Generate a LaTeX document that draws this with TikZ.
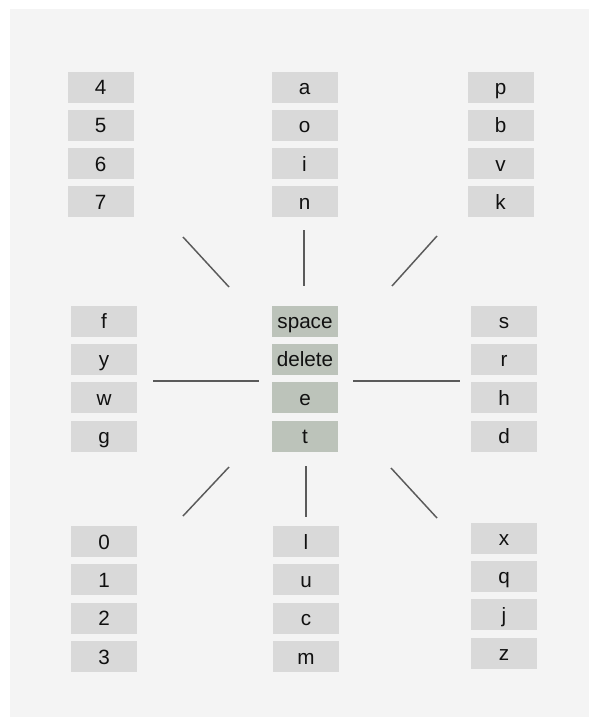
\documentclass[tikz,border=0pt]{standalone}
\usepackage{fontspec}
\setmainfont{Liberation Sans}
\definecolor{panel}{HTML}{F4F4F4}
\definecolor{keygray}{HTML}{D9D9D9}
\definecolor{keygreen}{HTML}{BCC3BA}
\definecolor{spoke}{HTML}{5A5A5A}
\definecolor{ink}{HTML}{111111}
\begin{document}
\begin{tikzpicture}[x=0.75pt,y=-0.75pt,
  key/.style={fill=keygray,minimum width=49.5pt,minimum height=23.25pt,inner sep=0pt,
    text=ink,font=\fontsize{15.5}{17}\selectfont,text height=11.2pt,text depth=0pt,
    yshift=-0.4pt},
  hub/.style={key,fill=keygreen},
  spokeline/.style={draw=spoke,line width=1.1pt}]
\useasboundingbox (0,0) rectangle (589,717);
\fill[white] (0,0) rectangle (589,717);
\fill[panel] (10,9) rectangle (589,717);
% top-left
\node[key] (k4) at (100.5,86.5) {4};
\node[key] (k5) at (100.5,124.8) {5};
\node[key] (k6) at (100.5,163.1) {6};
\node[key] (k7) at (100.5,201.4) {7};
% top-middle
\node[key] (ka) at (304.5,86.5) {a};
\node[key] (ko) at (304.5,124.8) {o};
\node[key] (ki) at (304.5,163.1) {i};
\node[key] (kn) at (304.5,201.4) {n};
% top-right
\node[key] (kp) at (500.5,86.5) {p};
\node[key] (kb) at (500.5,124.8) {b};
\node[key] (kv) at (500.5,163.1) {v};
\node[key] (kk) at (500.5,201.4) {k};
% middle-left
\node[key] (kf) at (104,320.5) {f};
\node[key] (ky) at (104,358.9) {y};
\node[key] (kw) at (104,397.3) {w};
\node[key] (kg) at (104,435.7) {g};
% center
\node[hub] (ksp) at (305,320.5) {space};
\node[hub] (kdel) at (305,358.9) {delete};
\node[hub] (ke) at (305,397.3) {e};
\node[hub] (kt) at (305,435.7) {t};
% middle-right
\node[key] (ks) at (504,320.5) {s};
\node[key] (kr) at (504,358.9) {r};
\node[key] (kh) at (504,397.3) {h};
\node[key] (kd) at (504,435.7) {d};
% bottom-left
\node[key] (k0) at (104,541) {0};
\node[key] (k1) at (104,579.4) {1};
\node[key] (k2) at (104,617.8) {2};
\node[key] (k3) at (104,656.2) {3};
% bottom-middle
\node[key] (kl) at (306,541) {l};
\node[key] (ku) at (306,579.4) {u};
\node[key] (kc) at (306,617.8) {c};
\node[key] (km) at (306,656.2) {m};
% bottom-right
\node[key] (kx) at (504,537.5) {x};
\node[key] (kq) at (504,575.9) {q};
\node[key] (kj) at (504,614.3) {j};
\node[key] (kz) at (504,652.7) {z};
% spoke end points
\coordinate (tlA) at (183,237); \coordinate (tlB) at (229,287);
\coordinate (tmA) at (304,230); \coordinate (tmB) at (304,286);
\coordinate (trA) at (437,236); \coordinate (trB) at (392,286);
\coordinate (mlA) at (153,381); \coordinate (mlB) at (259,381);
\coordinate (mrA) at (353,381); \coordinate (mrB) at (460,381);
\coordinate (blA) at (229,467); \coordinate (blB) at (183,516);
\coordinate (bmA) at (306,466); \coordinate (bmB) at (306,517);
\coordinate (brA) at (391,468); \coordinate (brB) at (437,518);
\draw[spokeline] (tlA) -- (tlB);
\draw[spokeline] (tmA) -- (tmB);
\draw[spokeline] (trA) -- (trB);
\draw[spokeline] (mlA) -- (mlB);
\draw[spokeline] (mrA) -- (mrB);
\draw[spokeline] (blA) -- (blB);
\draw[spokeline] (bmA) -- (bmB);
\draw[spokeline] (brA) -- (brB);
\end{tikzpicture}
\end{document}
